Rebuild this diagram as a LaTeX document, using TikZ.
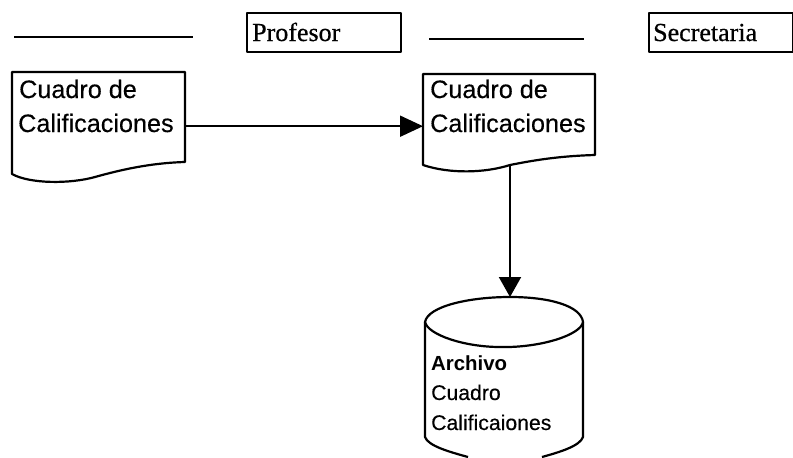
\documentclass[tikz,border=0pt]{standalone}
\usepackage{fontspec}
\setmainfont{Liberation Serif}
\newfontfamily\rolefont[FakeBold=0.6]{Liberation Serif}
\newfontfamily\arialfont[FakeBold=0.35]{Liberation Sans}
\newfontfamily\arialbold{Liberation Sans Bold}
\usetikzlibrary{arrows.meta}
\tikzset{
  outline/.style={draw=black,line width=2.2pt,line join=round},
  rule/.style={draw=black,line width=2pt},
  conn/.style={draw=black,line width=2pt},
  headr/.style={-{Triangle[length=23pt,width=21pt]}},
  headd/.style={-{Triangle[length=20pt,width=22pt]}},
  frame/.style={outline,fill=none,inner sep=0pt,anchor=north west},
  role/.style={font=\rolefont\fontsize{26}{26}\selectfont,inner sep=0pt,anchor=base west,text=black},
  doctext/.style={font=\arialfont\fontsize{25.2}{25.2}\selectfont,inner sep=0pt,anchor=base west,text=black},
  cyltext/.style={font=\arialfont\fontsize{21.2}{21.2}\selectfont,inner sep=0pt,anchor=base west,text=black},
  cylhead/.style={font=\arialbold\fontsize{20.4}{20.4}\selectfont,inner sep=0pt,anchor=base west,text=black},
  boxarea/.style={inner sep=0pt,anchor=north west}
}
\begin{document}
\begin{tikzpicture}[x=1pt,y=-1pt]
\useasboundingbox (0,0) rectangle (793,458);
% header rules and role boxes
\coordinate (r1a) at (14,37); \coordinate (r1b) at (193,37);
\coordinate (r2a) at (429,39); \coordinate (r2b) at (584,39);
\draw[rule] (r1a) -- (r1b);
\draw[rule] (r2a) -- (r2b);
\node[frame,minimum width=154pt,minimum height=39pt] (profbox) at (246,12) {};
\node[frame,minimum width=144pt,minimum height=39pt] (secbox) at (648,12) {};
\node[role] (prof) at (252,41) {Profesor};
\node[role] (sec) at (653,41) {Secretaria};
% document 1
\node[boxarea,minimum width=173pt,minimum height=108pt] (doc1) at (12,72) {};
\draw[outline] (12,72) -- (185,72) -- (185,162)
  .. controls (150,163) and (120,170) .. (95,177)
  .. controls (70,184) and (30,184) .. (12,174) -- cycle;
\node[doctext] (t1a) at (19,98) {Cuadro de};
\node[doctext] (t1b) at (18,132) {Calificaciones};
% document 2
\node[boxarea,minimum width=172pt,minimum height=104pt] (doc2) at (423,74) {};
\draw[outline] (423,74) -- (595,74) -- (595,155)
  .. controls (560,156) and (535,160) .. (510,165)
  .. controls (485,173) and (450,174) .. (423,165) -- cycle;
\coordinate (doc2low) at (510,165);
\node[doctext] (t2a) at (430,98) {Cuadro de};
\node[doctext] (t2b) at (430,132) {Calificaciones};
% cylinder
\node[boxarea,minimum width=158pt,minimum height=160pt] (cyl) at (425,297) {};
\draw[outline] (425,322)
  .. controls (428,306) and (470,297) .. (510,297)
  .. controls (550,297) and (581,306) .. (583,322)
  .. controls (581,335) and (540,348) .. (500,347)
  .. controls (465,347) and (428,335) .. (425,322) -- cycle;
\draw[outline] (425,322) -- (425,437)
  .. controls (428,446) and (450,452) .. (468,457);
\draw[outline] (583,322) -- (583,437)
  .. controls (580,446) and (560,452) .. (542,457);
\node[cylhead] (t3a) at (431,370) {Archivo};
\node[cyltext] (t3b) at (431,400) {Cuadro};
\node[cyltext] (t3c) at (431,430) {Calificaiones};
% connectors
\draw[conn,headr] (doc1.east) -- (doc2.west);
\draw[conn,headd] (doc2low) -- (cyl.north -| doc2low);
\end{tikzpicture}
\end{document}
